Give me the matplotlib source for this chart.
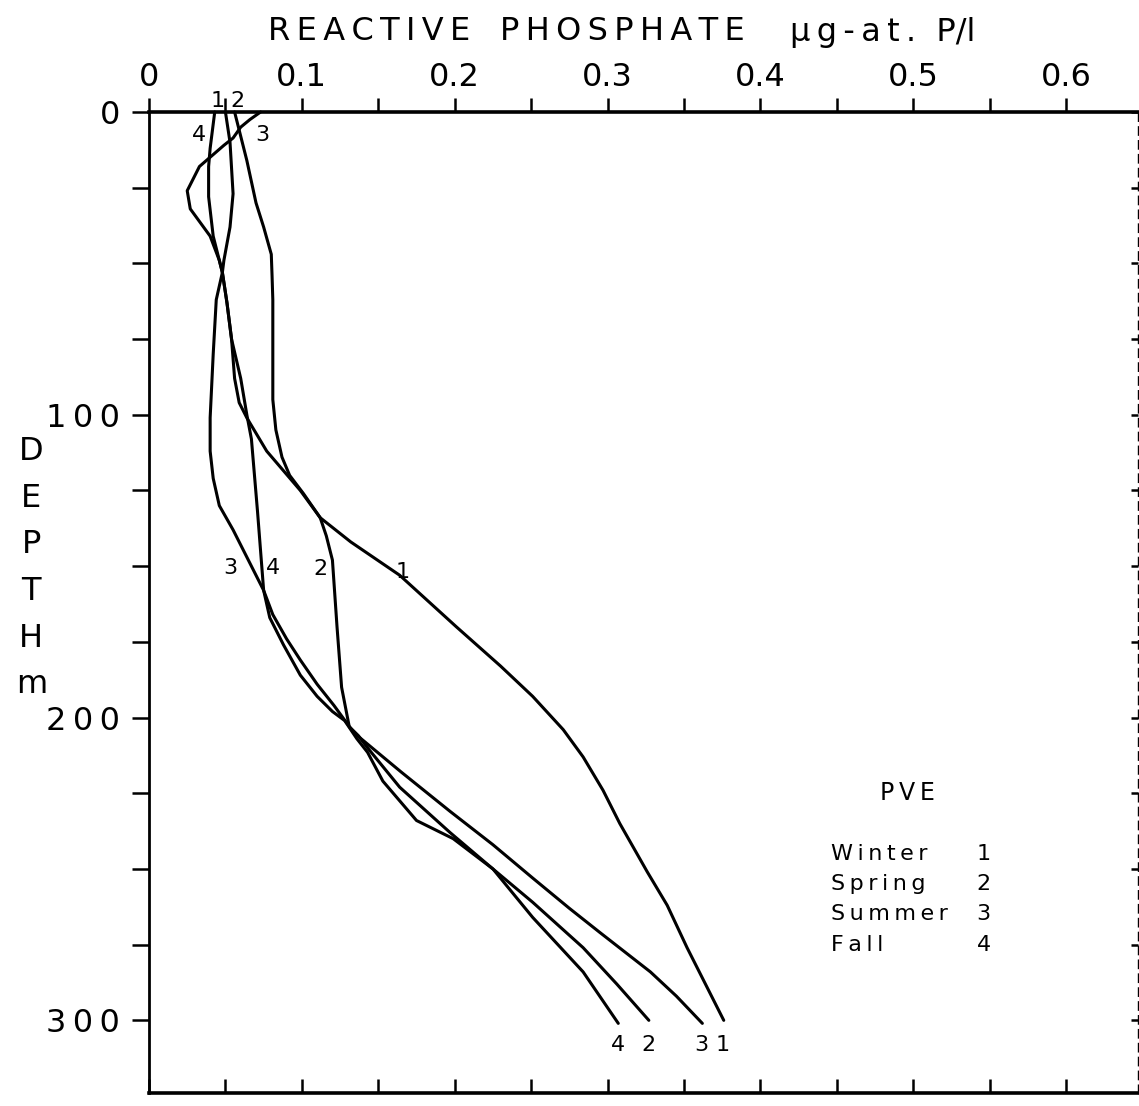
import matplotlib.pyplot as plt
import numpy as np

plt.rcParams['font.family'] = ['DejaVu Sans']

# reactive phosphate (ug-at P/l) against depth (m)
winter_x = [0.050, 0.053, 0.055, 0.053, 0.049, 0.048, 0.051, 0.054, 0.056, 0.059, 0.064,
            0.077, 0.099, 0.112, 0.132, 0.164, 0.201, 0.230, 0.251, 0.271, 0.284, 0.297,
            0.308, 0.317, 0.326, 0.339, 0.352, 0.365, 0.376]
winter_d = [0, 10, 27, 38, 49, 53, 63, 75, 88, 96, 101,
            112, 125, 134, 142, 153, 170, 183, 193, 204, 213, 224,
            235, 243, 251, 262, 276, 289, 300]

spring_x = [0.056, 0.064, 0.070, 0.075, 0.080, 0.0805, 0.081, 0.081, 0.081, 0.083, 0.087,
            0.092, 0.101, 0.112, 0.116, 0.120, 0.123, 0.126, 0.131, 0.137, 0.143, 0.164,
            0.197, 0.225, 0.251, 0.284, 0.306, 0.327]
spring_d = [0, 16, 30, 38, 47, 54, 62, 80, 95, 105, 114,
            120, 126, 134, 140, 148, 170, 190, 203, 206, 210, 223,
            238, 250, 261, 276, 288, 300]

summer_x = [0.073, 0.066, 0.060, 0.055, 0.049, 0.033, 0.025, 0.027, 0.040, 0.046, 0.048,
            0.044, 0.042, 0.040, 0.040, 0.042, 0.046, 0.055, 0.062, 0.075, 0.081, 0.090,
            0.099, 0.110, 0.121, 0.134, 0.165, 0.197, 0.225, 0.251, 0.275, 0.295, 0.328,
            0.345, 0.362]
summer_d = [0, 2.5, 5, 8.6, 11, 18, 26, 32, 41, 49, 53,
            62, 80, 101, 112, 121, 130, 138, 145, 158, 166, 174,
            181, 189, 196, 205, 218, 231, 242, 253, 263, 271, 284,
            292, 301]

fall_x = [0.043, 0.040, 0.039, 0.039, 0.042, 0.046, 0.048, 0.051, 0.054, 0.060, 0.064,
          0.067, 0.069, 0.071, 0.073, 0.075, 0.079, 0.088, 0.099, 0.110, 0.120, 0.128,
          0.136, 0.143, 0.153, 0.175, 0.199, 0.225, 0.251, 0.284, 0.307]
fall_d = [0, 12, 18, 28, 41, 49, 53, 63, 75, 88, 100,
          108, 120, 132, 145, 158, 167, 176, 186, 193, 198, 201,
          207, 211.5, 221, 234, 240, 250, 266, 284, 301]

seasons = ['Winter', 'Spring', 'Summer', 'Fall']
numbers = ['1', '2', '3', '4']

x_major = [0, 0.1, 0.2, 0.3, 0.4, 0.5, 0.6]
x_labels = ['0', '0.1', '0.2', '0.3', '0.4', '0.5', '0.6']
x_minor = [0.05, 0.15, 0.25, 0.35, 0.45, 0.55]
y_major = [0, 100, 200, 300]
y_minor = [25, 50, 75, 125, 150, 175, 225, 250, 275]


def spaced(word):
    # the original lettering is widely tracked
    return '\u2009'.join(word)


fig = plt.figure(figsize=(11.39, 11.06), dpi=100)
ax = fig.add_axes([149 / 1139, 1 - 1093 / 1106, 989 / 1139, 981 / 1106])

for xs, ds in [(winter_x, winter_d), (spring_x, spring_d),
               (summer_x, summer_d), (fall_x, fall_d)]:
    ax.plot(xs, ds, color='black', lw=2.2, solid_joinstyle='round',
            solid_capstyle='round', clip_on=False)

ax.set_xlim(0, 0.647)
ax.set_ylim(324, 0)

# top axis: ticks outward, labelled
ax.xaxis.tick_top()
ax.set_xticks(x_major, x_labels)
ax.set_xticks(x_minor, minor=True)
ax.tick_params(axis='x', which='both', direction='out', length=10, width=1.8,
               labelsize=23, pad=4)
ax.set_yticks(y_major, [spaced(str(v)) for v in y_major])
ax.set_yticks(y_minor, minor=True)
ax.tick_params(axis='y', which='both', direction='out', length=12, width=1.8,
               labelsize=23, pad=9)

ax.spines['top'].set_linewidth(2.6)
ax.spines['left'].set_linewidth(2)
ax.spines['bottom'].set_visible(False)
ax.spines['right'].set_visible(False)

# bottom axis: inward ticks only
bx = ax.secondary_xaxis('bottom')
bx.set_xticks(x_major + x_minor, [''] * 13)
bx.tick_params(direction='in', length=10, width=1.8)
bx.spines['bottom'].set_linewidth(2.6)

# right axis: faint dashed edge with small inward ticks
ry = ax.secondary_yaxis('right')
ry.set_yticks(y_major + y_minor, [''] * 13)
ry.tick_params(direction='in', length=5, width=1.8)
ry.spines['right'].set_linewidth(1.0)
ry.spines['right'].set_linestyle((0, (6, 4)))

# axis titles
fig.text(268 / 1139, 1 - 32 / 1106, spaced('REACTIVE'), fontsize=23,
         ha='left', va='center')
fig.text(500 / 1139, 1 - 32 / 1106, spaced('PHOSPHATE'), fontsize=23,
         ha='left', va='center')
fig.text(790 / 1139, 1 - 32 / 1106, spaced('μg-at.') + '  P/l', fontsize=23,
         ha='left', va='center')
ax.text(-0.119, 0.535, 'D\nE\nP\nT\nH\nm', transform=ax.transAxes, fontsize=23,
        ha='center', va='center', linespacing=1.65)

# curve labels
lab = dict(fontsize=16, ha='center', va='center')
ax.text(0.045, -3.5, '1', **lab)
ax.text(0.058, -3.5, '2', **lab)
ax.text(0.033, 7.6, '4', **lab)
ax.text(0.074, 7.6, '3', **lab)
ax.text(0.053, 150.5, '3', **lab)
ax.text(0.081, 150.5, '4', **lab)
ax.text(0.112, 151, '2', **lab)
ax.text(0.166, 152, '1', **lab)
for xv, t in zip([0.307, 0.327, 0.361, 0.375], ['4', '2', '3', '1']):
    ax.text(xv, 308, t, **lab)

# key
ax.text(0.496, 225, spaced('PVE'), fontsize=17, ha='center', va='center')
for i, (s, n) in enumerate(zip(seasons, numbers)):
    ax.text(0.446, 245 + 10 * i, spaced(s), fontsize=16, ha='left', va='center')
    ax.text(0.546, 245 + 10 * i, n, fontsize=16, ha='center', va='center')

fig.savefig('out.png', dpi=100)
